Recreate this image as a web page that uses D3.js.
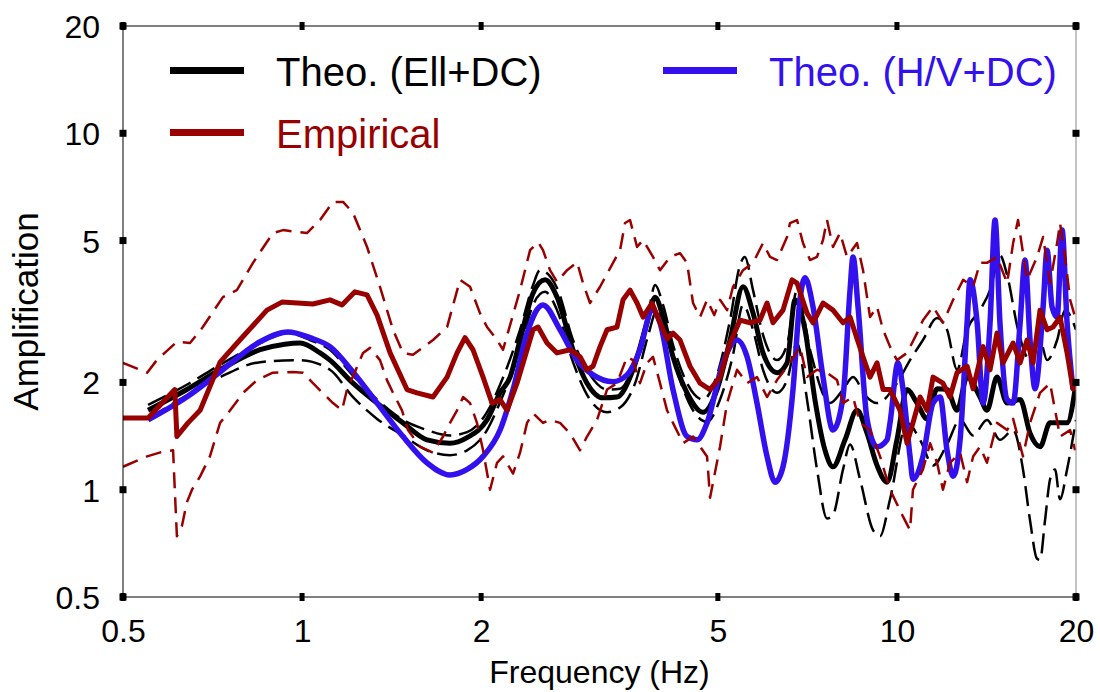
<!DOCTYPE html>
<html>
<head>
<meta charset="utf-8">
<script src="https://cdn.jsdelivr.net/npm/d3@7"></script>
<style>
  body { margin: 0; background: #fff; }
  svg { display: block; font-family: "Liberation Sans", Arial, sans-serif; }
</style>
</head>
<body>
<svg id="chart" width="1100" height="692"></svg>
<script>
// [frequency Hz, amplification]
var ellMean = [[0.551,1.67],[0.640,1.91],[0.728,2.17],[0.850,2.47],[0.935,2.56],[0.992,2.58],[1.072,2.42],[1.114,2.31],[1.218,1.99],[1.337,1.75],[1.478,1.54],[1.622,1.38],[1.773,1.35],[1.894,1.40],[2.046,1.57],[2.152,1.87],[2.237,2.07],[2.325,2.63],[2.445,3.56],[2.561,3.88],[2.683,3.47],[2.854,2.47],[3.013,1.99],[3.206,1.81],[3.384,1.82],[3.600,2.17],[3.801,2.94],[3.921,3.47],[4.044,3.05],[4.203,2.36],[4.438,1.87],[4.721,1.65],[4.984,1.91],[5.241,2.63],[5.512,3.71],[5.729,3.13],[5.955,2.42],[6.287,2.13],[6.535,2.27],[6.74,3.41],[7.006,2.81],[7.28,1.79],[7.57,1.29],[7.808,1.16],[8.18,1.38],[8.569,1.67],[8.907,1.44],[9.259,1.17],[9.624,1.05],[10.0,1.38],[10.40,1.91],[10.81,1.75],[11.24,1.58],[11.68,1.92],[12.14,1.91],[12.62,1.67],[13.12,2.07],[13.79,1.82],[14.17,1.67],[14.73,2.07],[15.32,1.75],[16.11,1.79],[16.74,1.44],[17.40,1.32],[18.09,1.54],[18.80,1.54],[19.32,1.54],[20.0,1.99]];

var ellHi = [[0.551,1.73],[0.640,1.97],[0.728,2.24],[0.850,2.58],[0.947,2.75],[1.031,2.63],[1.114,2.47],[1.218,2.09],[1.337,1.79],[1.478,1.57],[1.622,1.47],[1.773,1.42],[1.894,1.45],[2.046,1.65],[2.152,1.97],[2.325,2.81],[2.445,3.75],[2.512,4.13],[2.683,3.68],[2.854,2.63],[3.048,2.10],[3.256,1.91],[3.424,1.92],[3.63,2.31],[3.82,3.13],[3.921,3.75],[4.044,3.30],[4.203,2.55],[4.438,1.99],[4.721,1.79],[4.984,2.10],[5.241,2.99],[5.448,4.27],[5.55,4.50],[5.729,3.63],[5.955,2.72],[6.287,2.31],[6.535,2.55],[6.793,3.63],[7.143,2.47],[7.718,1.75],[8.117,1.91],[8.437,2.07],[8.84,1.84],[9.259,1.75],[10.0,1.99],[10.52,2.31],[11.06,2.63],[11.68,3.03],[12.14,2.81],[12.62,2.17],[13.12,2.81],[13.79,3.19],[14.34,3.63],[14.90,4.55],[15.32,4.00],[15.98,2.81],[16.74,2.31],[17.40,2.63],[17.88,2.31],[18.59,2.63],[19.17,3.19],[20.0,2.81]];

var ellLo = [[0.551,1.58],[0.640,1.84],[0.728,2.07],[0.850,2.28],[0.992,2.31],[1.114,2.17],[1.218,1.82],[1.337,1.58],[1.478,1.42],[1.622,1.29],[1.773,1.25],[1.894,1.29],[2.046,1.47],[2.152,1.76],[2.325,2.47],[2.445,3.30],[2.561,3.59],[2.683,3.19],[2.854,2.28],[3.048,1.79],[3.256,1.65],[3.424,1.70],[3.63,1.99],[3.82,2.72],[3.951,3.19],[4.107,2.72],[4.319,2.03],[4.542,1.67],[4.795,1.55],[5.042,1.79],[5.302,2.39],[5.512,3.30],[5.729,2.81],[5.955,2.17],[6.287,1.87],[6.535,2.03],[6.793,2.58],[7.061,1.79],[7.339,1.14],[7.629,0.83],[7.808,0.85],[8.117,1.14],[8.34,1.34],[8.669,1.07],[9.116,0.77],[9.367,0.74],[9.736,0.94],[10.40,1.54],[10.94,1.38],[11.50,1.17],[12.14,1.34],[12.77,1.57],[13.43,1.42],[14.17,1.57],[14.90,1.38],[15.68,1.47],[16.29,1.14],[16.74,0.82],[17.20,0.64],[17.40,0.635],[17.74,0.82],[18.09,1.07],[18.44,1.14],[18.80,0.94],[19.32,1.14],[20.0,1.57]];

var hvMean = [[0.551,1.57],[0.640,1.82],[0.728,2.14],[0.850,2.60],[0.947,2.77],[1.031,2.67],[1.114,2.52],[1.218,2.14],[1.337,1.75],[1.478,1.41],[1.622,1.19],[1.773,1.10],[1.894,1.14],[2.015,1.24],[2.152,1.47],[2.263,1.91],[2.389,2.75],[2.541,3.30],[2.714,2.81],[2.899,2.31],[3.084,2.10],[3.332,2.01],[3.518,2.10],[3.699,2.47],[3.875,3.19],[3.997,2.94],[4.203,1.91],[4.438,1.41],[4.613,1.38],[4.795,1.54],[5.101,2.27],[5.385,2.63],[5.598,2.36],[5.818,1.75],[6.048,1.24],[6.24,1.05],[6.434,1.16],[6.688,1.91],[6.87,3.41],[7.006,3.93],[7.226,3.26],[7.512,2.07],[7.808,1.47],[8.117,1.82],[8.34,3.63],[8.437,4.50],[8.602,3.26],[8.907,1.58],[9.259,1.32],[9.624,1.38],[9.736,1.54],[10.04,2.27],[10.24,1.91],[10.52,1.24],[10.64,1.07],[11.06,1.24],[11.50,1.75],[11.82,1.82],[12.14,1.29],[12.43,1.09],[12.77,1.38],[13.12,2.94],[13.27,3.88],[13.64,2.94],[13.96,1.75],[14.34,2.94],[14.62,5.71],[14.90,2.94],[15.32,1.79],[15.68,1.75],[16.11,2.94],[16.42,4.41],[16.74,2.63],[17.07,1.92],[17.61,3.26],[17.88,4.70],[18.23,3.26],[18.59,3.05],[18.95,5.35],[19.32,2.94],[19.77,1.91]];

var empMean = [[0.500,1.59],[0.551,1.59],[0.611,1.91],[0.616,1.41],[0.643,1.54],[0.674,1.67],[0.728,2.28],[0.786,2.63],[0.873,3.19],[0.925,3.36],[1.043,3.32],[1.114,3.41],[1.167,3.30],[1.227,3.59],[1.286,3.52],[1.337,3.09],[1.406,2.42],[1.501,1.91],[1.560,1.87],[1.660,1.82],[1.753,2.07],[1.822,2.42],[1.879,2.67],[1.938,2.47],[2.015,2.07],[2.086,1.75],[2.152,1.79],[2.211,1.67],[2.298,1.99],[2.389,2.47],[2.445,2.81],[2.493,2.86],[2.581,2.58],[2.683,2.42],[2.821,2.47],[2.933,2.36],[3.013,2.17],[3.084,2.22],[3.169,2.52],[3.256,2.81],[3.384,2.86],[3.464,3.41],[3.559,3.63],[3.657,3.34],[3.743,3.05],[3.875,3.34],[3.997,2.94],[4.107,2.65],[4.203,2.75],[4.319,2.63],[4.489,2.22],[4.667,1.99],[4.851,1.91],[5.042,2.07],[5.241,2.58],[5.448,2.99],[5.66,2.94],[5.886,2.99],[6.048,3.34],[6.190,2.94],[6.434,3.19],[6.662,3.88],[6.793,3.80],[7.061,3.13],[7.226,2.94],[7.512,3.34],[7.808,3.19],[8.117,2.94],[8.34,3.05],[8.569,2.65],[8.770,2.36],[9.011,2.07],[9.259,2.27],[9.476,1.91],[9.736,1.91],[10.12,1.67],[10.40,1.35],[10.64,1.54],[10.94,1.82],[11.24,1.67],[11.50,2.07],[11.95,1.99],[12.28,1.82],[12.62,2.13],[13.12,2.22],[13.43,1.92],[13.96,2.52],[14.34,2.17],[14.73,2.75],[15.08,2.27],[15.68,2.58],[16.11,2.27],[16.55,2.63],[16.94,2.27],[17.40,3.19],[17.88,2.81],[18.30,2.86],[18.80,3.05],[19.32,2.42],[19.77,1.92],[20.0,1.95]];

var empHi = [[0.500,2.27],[0.549,2.13],[0.570,2.31],[0.616,2.60],[0.648,2.58],[0.681,2.86],[0.736,3.47],[0.777,3.63],[0.827,4.33],[0.893,5.25],[0.929,5.35],[1.019,5.25],[1.072,5.71],[1.127,6.42],[1.172,6.42],[1.218,5.98],[1.286,4.80],[1.352,3.71],[1.422,2.81],[1.478,2.42],[1.536,2.39],[1.660,2.63],[1.753,2.86],[1.843,3.88],[1.916,3.71],[1.991,3.13],[2.046,2.86],[2.127,2.63],[2.177,2.47],[2.325,3.63],[2.417,4.70],[2.493,4.95],[2.541,4.70],[2.611,4.13],[2.683,3.83],[2.789,4.13],[2.899,4.35],[2.967,3.80],[3.048,3.34],[3.169,3.71],[3.332,4.33],[3.424,4.70],[3.491,5.60],[3.559,5.71],[3.657,4.80],[3.743,5.02],[3.890,4.50],[3.997,4.13],[4.155,4.50],[4.319,4.61],[4.438,4.33],[4.542,3.34],[4.667,3.05],[4.795,3.41],[4.93,3.09],[5.042,3.41],[5.181,3.19],[5.302,3.71],[5.512,4.13],[5.729,4.33],[5.955,4.92],[6.119,4.50],[6.287,4.41],[6.535,5.12],[6.611,5.60],[6.793,5.71],[6.952,4.92],[7.143,4.41],[7.339,4.50],[7.512,5.02],[7.629,5.71],[7.808,4.80],[8.023,5.25],[8.243,4.50],[8.569,4.92],[8.770,4.13],[9.011,3.05],[9.259,3.26],[9.476,2.81],[9.736,2.52],[10.0,2.31],[10.40,2.42],[10.81,2.75],[11.06,2.99],[11.50,3.26],[11.95,2.94],[12.43,3.41],[12.92,3.88],[13.43,3.71],[13.79,4.33],[14.17,4.33],[14.73,4.50],[15.32,3.80],[15.68,4.92],[15.98,5.71],[16.55,3.88],[17.20,4.50],[17.61,5.12],[18.09,3.80],[18.59,4.92],[18.80,5.60],[19.17,4.50],[19.55,3.41],[19.93,3.05]];

var empLo = [[0.500,1.16],[0.549,1.24],[0.584,1.28],[0.607,1.29],[0.611,1.00],[0.616,0.74],[0.628,0.79],[0.640,0.92],[0.653,1.00],[0.674,1.09],[0.700,1.24],[0.728,1.54],[0.757,1.67],[0.796,1.87],[0.840,2.03],[0.893,2.13],[0.965,2.14],[1.004,2.13],[1.043,1.99],[1.127,1.75],[1.167,1.67],[1.190,1.91],[1.227,2.14],[1.266,2.42],[1.301,2.50],[1.352,2.31],[1.389,2.03],[1.422,1.87],[1.472,1.67],[1.507,1.47],[1.579,1.32],[1.660,1.27],[1.726,1.41],[1.773,1.54],[1.822,1.67],[1.865,1.82],[1.916,1.75],[1.968,1.54],[2.015,1.29],[2.070,1.00],[2.127,1.19],[2.177,1.24],[2.263,1.11],[2.325,1.27],[2.389,1.54],[2.445,1.64],[2.541,1.54],[2.611,1.57],[2.714,1.54],[2.821,1.44],[2.933,1.29],[3.013,1.41],[3.132,1.57],[3.256,1.91],[3.384,1.99],[3.518,2.36],[3.600,2.31],[3.699,1.99],[3.801,2.27],[3.890,2.36],[3.997,1.99],[4.107,1.67],[4.203,1.54],[4.369,1.35],[4.542,1.41],[4.795,1.24],[4.851,0.95],[5.042,1.32],[5.181,1.75],[5.385,2.17],[5.598,1.99],[5.818,2.07],[6.048,1.82],[6.287,2.03],[6.611,2.27],[6.87,2.52],[7.061,2.07],[7.339,2.17],[7.629,2.13],[7.930,2.03],[8.117,1.75],[8.437,1.82],[8.669,1.54],[9.011,1.47],[9.367,1.24],[9.736,1.00],[10.24,0.84],[10.52,0.77],[10.64,1.00],[11.06,1.14],[11.37,1.35],[11.68,1.19],[11.95,1.00],[12.28,1.19],[12.77,1.27],[13.12,1.05],[13.43,1.24],[13.79,1.32],[14.17,1.19],[14.73,1.54],[15.32,1.47],[15.68,1.58],[16.29,1.24],[16.74,1.54],[17.40,1.87],[18.09,1.99],[18.80,1.41],[19.55,1.47],[19.93,1.29]];

var xTicks = [0.5, 1, 2, 5, 10, 20]
var yTicks = [0.5, 1, 2, 5, 10, 20]

var margin = {left: 123, right: 24, top: 26, bottom: 95}
var width = 1100, height = 692

var svg = d3.select('#chart')

var x = d3.scaleLog().domain([0.5, 20]).range([margin.left, width - margin.right])
var y = d3.scaleLog().domain([0.5, 20]).range([height - margin.bottom, margin.top])

var x0 = x.range()[0], x1 = x.range()[1], y0 = y.range()[0], y1 = y.range()[1]

svg.append('defs').append('clipPath').attr('id', 'clip')
  .append('rect')
  .attr('x', x0).attr('y', y1)
  .attr('width', x1 - x0).attr('height', y0 - y1)

var smooth = d3.line()
  .x(function(d) { return x(d[0]) })
  .y(function(d) { return y(d[1]) })
  .curve(d3.curveMonotoneX)

var jagged = d3.line()
  .x(function(d) { return x(d[0]) })
  .y(function(d) { return y(d[1]) })

var plot = svg.append('g').attr('clip-path', 'url(#clip)')

var series = [
  {data: ellLo, line: smooth, color: '#000', w: 2.5, dash: '20,8'},
  {data: ellHi, line: smooth, color: '#000', w: 2.5, dash: '20,8'},
  {data: ellMean, line: smooth, color: '#000', w: 5, dash: null},
  {data: hvMean, line: smooth, color: '#3311ee', w: 5.5, dash: null},
  {data: empLo, line: jagged, color: '#990000', w: 2.5, dash: '16,9'},
  {data: empHi, line: jagged, color: '#990000', w: 2.5, dash: '16,9'},
  {data: empMean, line: jagged, color: '#990000', w: 5, dash: null}
]

series.forEach(function(s) {
  plot.append('path')
    .datum(s.data)
    .attr('fill', 'none')
    .attr('stroke', s.color)
    .attr('stroke-width', s.w)
    .attr('stroke-linejoin', 'round')
    .attr('stroke-dasharray', s.dash)
    .attr('d', s.line)
})

// frame
svg.append('line').attr('x1', x0).attr('x2', x1).attr('y1', y1).attr('y2', y1).attr('stroke', '#000')
svg.append('line').attr('x1', x0).attr('x2', x1).attr('y1', y0).attr('y2', y0).attr('stroke', '#000')
svg.append('line').attr('x1', x0).attr('x2', x0).attr('y1', y1).attr('y2', y0).attr('stroke', '#000')
svg.append('line').attr('x1', x1).attr('x2', x1).attr('y1', y1).attr('y2', y0).attr('stroke', '#888')

// axes labels
var fmt = function(d) { return String(d) }

var gx = svg.append('g')
  .attr('transform', 'translate(0,' + y0 + ')')
  .call(d3.axisBottom(x).tickValues(xTicks).tickFormat(fmt).tickSize(0).tickPadding(22))
gx.select('.domain').remove()
gx.selectAll('text').attr('font-size', 32).attr('font-family', 'Liberation Sans, Arial, sans-serif').attr('fill', '#000')

var gy = svg.append('g')
  .attr('transform', 'translate(' + x0 + ',0)')
  .call(d3.axisLeft(y).tickValues(yTicks).tickFormat(fmt).tickSize(0).tickPadding(23))
gy.select('.domain').remove()
gy.selectAll('text').attr('font-size', 32).attr('font-family', 'Liberation Sans, Arial, sans-serif').attr('fill', '#000').attr('dy', '0.36em')

// square tick marks on all four sides
svg.selectAll('.xt').data(xTicks).enter().append('rect')
  .attr('x', function(d) { return x(d) - 2.5 }).attr('y', y0 - 4)
  .attr('width', 5).attr('height', 8).attr('fill', '#000')
svg.selectAll('.xtt').data(xTicks).enter().append('rect')
  .attr('x', function(d) { return x(d) - 2.5 }).attr('y', y1 - 4)
  .attr('width', 5).attr('height', 8).attr('fill', '#000')
svg.selectAll('.yt').data(yTicks).enter().append('rect')
  .attr('x', x0 - 3.5).attr('y', function(d) { return y(d) - 3.5 })
  .attr('width', 7).attr('height', 7).attr('fill', '#000')
svg.selectAll('.ytr').data(yTicks).enter().append('rect')
  .attr('x', x1 - 3.5).attr('y', function(d) { return y(d) - 3.5 })
  .attr('width', 7).attr('height', 7).attr('fill', '#000')

svg.append('text')
  .attr('x', (x0 + x1) / 2).attr('y', 683)
  .attr('text-anchor', 'middle').attr('font-size', 32)
  .text('Frequency (Hz)')

svg.append('text')
  .attr('transform', 'translate(38,' + ((y0 + y1) / 2) + ') rotate(-90)')
  .attr('text-anchor', 'middle').attr('font-size', 35)
  .text('Amplification')

// legend
var legend = [
  {label: 'Theo. (Ell+DC)', color: '#000', lx: 170, ly: 70.5},
  {label: 'Theo. (H/V+DC)', color: '#3311ee', lx: 663, ly: 70.5},
  {label: 'Empirical', color: '#990000', lx: 170, ly: 132.5}
]
var lg = svg.append('g')
legend.forEach(function(l) {
  lg.append('line')
    .attr('x1', l.lx).attr('x2', l.lx + 74)
    .attr('y1', l.ly).attr('y2', l.ly)
    .attr('stroke', l.color).attr('stroke-width', 7)
  lg.append('text')
    .attr('x', l.lx + 106).attr('y', l.ly + 15)
    .attr('font-size', 40).attr('fill', l.color)
    .text(l.label)
})
</script>
</body>
</html>
